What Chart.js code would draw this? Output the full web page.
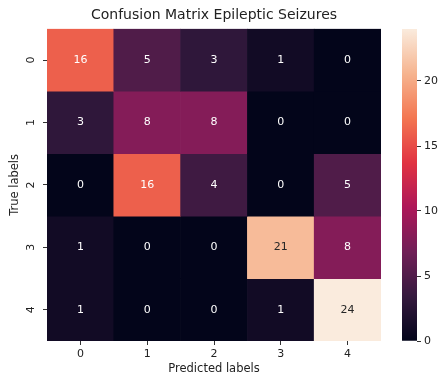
<!DOCTYPE html>
<html>
<head>
<meta charset="utf-8">
<script src="https://cdn.jsdelivr.net/npm/chart.js@4.4.1/dist/chart.umd.min.js"></script>
<style>
  html, body { margin: 0; padding: 0; background: #fff; }
  #wrap { position: relative; width: 440px; height: 377px; }
  #main { position: absolute; left: 0; top: 0; }
  #cbar { position: absolute; left: 395px; top: 0; }
</style>
</head>
<body>
<div id="wrap">
  <canvas id="main" width="440" height="377"></canvas>
  <canvas id="cbar" width="45" height="377"></canvas>
</div>
<script>
// confusion matrix, rows = true label, columns = predicted label
const predictedLabels = ['0', '1', '2', '3', '4'];
const trueLabels = [0, 1, 2, 3, 4];
const row0 = [16, 5, 3, 1, 0];
const row1 = [3, 8, 8, 0, 0];
const row2 = [0, 16, 4, 0, 5];
const row3 = [1, 0, 0, 21, 8];
const row4 = [1, 0, 0, 1, 24];
const rows = [row0, row1, row2, row3, row4];
const vmin = 0;
const vmax = 24;
const colorbarTicks = [0, 5, 10, 15, 20];

// seaborn "rocket" colormap stops
const rocket = [
    [0, [3, 5, 26]],
    [1/7, [53, 25, 62]],
    [2/7, [112, 31, 87]],
    [3/7, [173, 23, 89]],
    [4/7, [225, 51, 66]],
    [5/7, [243, 118, 81]],
    [6/7, [246, 180, 143]],
    [1, [250, 235, 221]]
];

function rocketRGB(t) {
    t = Math.max(0, Math.min(1, t));
    for (let i = 1; i < rocket.length; i++) {
        if (t <= rocket[i][0]) {
            const a = rocket[i - 1], b = rocket[i];
            const f = (t - a[0]) / (b[0] - a[0]);
            return a[1].map((c, k) => Math.round(c + (b[1][k] - c) * f));
        }
    }
    return rocket[rocket.length - 1][1];
}
function colorFor(v) {
    const c = rocketRGB((v - vmin) / (vmax - vmin));
    return 'rgb(' + c.join(',') + ')';
}
function textColorFor(v) {
    const c = rocketRGB((v - vmin) / (vmax - vmin)).map(x => {
        x = x / 255;
        return x <= 0.03928 ? x / 12.92 : Math.pow((x + 0.055) / 1.055, 2.4);
    });
    const lum = 0.2126 * c[0] + 0.7152 * c[1] + 0.0722 * c[2];
    return lum > 0.408 ? '#262626' : '#ffffff';
}

const FONT = 'DejaVu Sans';
const TXT = '#222222';

const datasets = rows.map((vals, r) => ({
    label: 'True ' + trueLabels[r],
    data: vals.map(() => [trueLabels[r] - 0.5, trueLabels[r] + 0.5]),
    values: vals,
    backgroundColor: vals.map(v => colorFor(v)),
    borderWidth: 0,
    barPercentage: 1,
    categoryPercentage: 1,
    grouped: false
}));

const cellText = {
    id: 'cellText',
    afterDatasetsDraw(chart) {
        const ctx = chart.ctx;
        ctx.save();
        ctx.font = '11px "' + FONT + '"';
        ctx.textAlign = 'center';
        ctx.textBaseline = 'middle';
        chart.data.datasets.forEach((ds, i) => {
            chart.getDatasetMeta(i).data.forEach((bar, j) => {
                const v = ds.values[j];
                ctx.fillStyle = textColorFor(v);
                ctx.fillText(String(v), bar.x, (bar.y + bar.base) / 2);
            });
        });
        ctx.restore();
    }
};

new Chart(document.getElementById('main'), {
    type: 'bar',
    data: { labels: predictedLabels, datasets: datasets },
    options: {
        responsive: false,
        animation: false,
        layout: { padding: { left: 0, right: 59, top: 0, bottom: 0 } },
        plugins: {
            legend: { display: false },
            tooltip: { enabled: false },
            title: {
                display: true,
                fullSize: false,
                text: 'Confusion Matrix Epileptic Seizures',
                color: TXT,
                font: { family: FONT, size: 14, weight: 'normal' },
                padding: { top: 7, bottom: 5 }
            }
        },
        scales: {
            x: {
                grid: { drawOnChartArea: false, offset: false, tickLength: 4, color: '#333' },
                border: { display: false },
                ticks: { color: TXT, font: { family: FONT, size: 11 }, padding: 3, maxRotation: 0 },
                title: {
                    display: true, text: 'Predicted labels', color: TXT,
                    font: { family: FONT, size: 11.5 }, padding: { top: 0, bottom: 1 }
                },
                afterFit(scale) { scale.height = 36; }
            },
            y: {
                type: 'linear',
                reverse: true,
                min: -0.5,
                max: 4.5,
                afterBuildTicks(scale) { scale.ticks = trueLabels.map(v => ({ value: v })); },
                grid: { drawOnChartArea: false, tickLength: 4, color: '#333' },
                border: { display: false },
                ticks: {
                    color: TXT, font: { family: FONT, size: 11 }, padding: 8,
                    minRotation: 90, maxRotation: 90, crossAlign: 'center',
                    callback: v => String(v)
                },
                title: {
                    display: true, text: 'True labels', color: TXT,
                    font: { family: FONT, size: 11.5 }, padding: { top: 8, bottom: 0 }
                },
                afterFit(scale) { scale.width = 47; }
            }
        }
    },
    plugins: [cellText]
});

// colour bar
new Chart(document.getElementById('cbar'), {
    type: 'bar',
    data: {
        labels: ['scale'],
        datasets: [{
            data: [[vmin, vmax]],
            borderWidth: 0,
            barPercentage: 1,
            categoryPercentage: 1,
            backgroundColor(context) {
                const ca = context.chart.chartArea;
                if (!ca) return colorFor(vmax / 2);
                const g = context.chart.ctx.createLinearGradient(0, ca.bottom, 0, ca.top);
                rocket.forEach(s => g.addColorStop(s[0], 'rgb(' + s[1].join(',') + ')'));
                return g;
            }
        }]
    },
    options: {
        responsive: false,
        animation: false,
        layout: { padding: { left: 7, right: 0, top: 29, bottom: 36 } },
        plugins: { legend: { display: false }, tooltip: { enabled: false } },
        scales: {
            x: { display: false },
            y: {
                position: 'right',
                min: vmin,
                max: vmax,
                afterBuildTicks(scale) { scale.ticks = colorbarTicks.map(v => ({ value: v })); },
                grid: { drawOnChartArea: false, tickLength: 4, color: '#333' },
                border: { display: false },
                ticks: { color: TXT, font: { family: FONT, size: 11 }, padding: 3 },
                afterFit(scale) { scale.width = 23; }
            }
        }
    }
});
</script>
</body>
</html>
